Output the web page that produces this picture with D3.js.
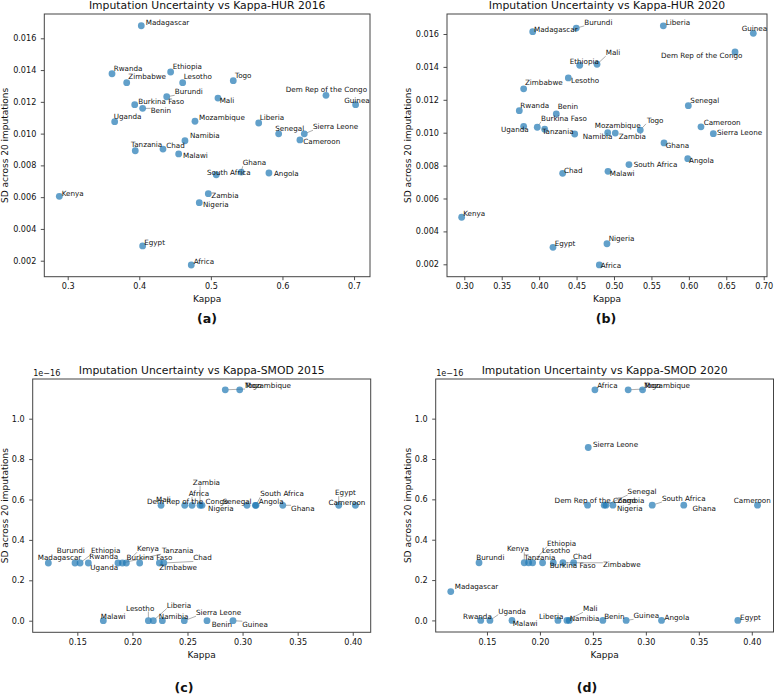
<!DOCTYPE html>
<html><head><meta charset="utf-8">
<script src="https://cdn.jsdelivr.net/npm/d3@7"></script>
<style>body{margin:0;background:#fff} svg text{font-family:"DejaVu Sans",sans-serif}</style>
</head><body>
<svg id="chart" width="774" height="696"></svg>
<script>
// ---------------- DATA ----------------
const countries = ["Africa","Angola","Benin","Burkina Faso","Burundi","Cameroon","Chad","Dem Rep of the Congo","Egypt","Ethiopia","Ghana","Guinea","Kenya","Lesotho","Liberia","Madagascar","Malawi","Mali","Mozambique","Namibia","Nigeria","Rwanda","Senegal","Sierra Leone","South Africa","Tanzania","Togo","Uganda","Zambia","Zimbabwe"];

const kappaHUR2016 = [0.4726,0.5811,0.4047,0.3936,0.4383,0.6244,0.4331,0.6608,0.4047,0.4438,0.5425,0.7022,0.2883,0.4606,0.5668,0.4028,0.4550,0.5099,0.4778,0.4638,0.4838,0.3619,0.5947,0.6305,0.5075,0.3944,0.5313,0.3656,0.4964,0.3824];
const sdHUR2016 = [0.00173,0.00752,0.01159,0.01182,0.01232,0.00960,0.00903,0.01241,0.00293,0.01388,0.00758,0.01182,0.00605,0.01321,0.01067,0.01679,0.00872,0.01224,0.01078,0.00955,0.00565,0.01377,0.00999,0.00999,0.00741,0.00892,0.01333,0.01075,0.00622,0.01321];

const kappaHUR2020 = [0.4804,0.5985,0.4229,0.3975,0.4496,0.6162,0.4314,0.6617,0.4185,0.4542,0.5668,0.6861,0.2965,0.4390,0.5659,0.3914,0.4920,0.4773,0.4916,0.4475,0.4906,0.3735,0.5993,0.6327,0.5200,0.4074,0.5351,0.3793,0.5017,0.3793];
const sdHUR2020 = [0.00196,0.00842,0.01114,0.01033,0.01636,0.01036,0.00753,0.01491,0.00303,0.01410,0.00938,0.01604,0.00486,0.01333,0.01650,0.01614,0.00765,0.01416,0.01000,0.00992,0.00325,0.01134,0.01164,0.00994,0.00806,0.01021,0.01016,0.01039,0.00998,0.01267];

const kappaSMOD2015 = [0.2541,0.3116,0.2677,0.2066,0.1479,0.4024,0.2285,0.2475,0.3873,0.1525,0.3365,0.2913,0.1945,0.2145,0.2190,0.1237,0.1736,0.2260,0.2843,0.2272,0.2632,0.1600,0.3040,0.2471,0.3122,0.1909,0.2974,0.1869,0.2614,0.2245];
const sdSMOD2015 = [0.5714e-16,0.5714e-16,0,0.2857e-16,0.2857e-16,0.5714e-16,0.2857e-16,0.5714e-16,0.5714e-16,0.2857e-16,0.5714e-16,0,0.2857e-16,0,0,0.2857e-16,0,0.5714e-16,1.1429e-16,0,0.5714e-16,0.2857e-16,0.5714e-16,0,0.5714e-16,0.2857e-16,1.1429e-16,0.2857e-16,0.5714e-16,0.2857e-16];

const kappaSMOD2020 = [0.2519,0.3148,0.2594,0.2126,0.1425,0.4054,0.2318,0.2450,0.3868,0.1931,0.3358,0.2814,0.1852,0.2025,0.2170,0.1158,0.1736,0.2255,0.2833,0.2277,0.2689,0.1441,0.2623,0.2456,0.3060,0.1893,0.2969,0.1528,0.2607,0.2217];
const sdSMOD2020 = [1.1429e-16,0,0,0.2857e-16,0.2857e-16,0.5714e-16,0.2857e-16,0.5714e-16,0,0.2857e-16,0.5714e-16,0,0.2857e-16,0.2857e-16,0,0.1429e-16,0,0,1.1429e-16,0,0.5714e-16,0,0.5714e-16,0.8571e-16,0.5714e-16,0.2857e-16,1.1429e-16,0,0.5714e-16,0.2857e-16];

const titles = ["Imputation Uncertainty vs Kappa-HUR 2016","Imputation Uncertainty vs Kappa-HUR 2020","Imputation Uncertainty vs Kappa-SMOD 2015","Imputation Uncertainty vs Kappa-SMOD 2020"];
const panelTags = ["(a)","(b)","(c)","(d)"];
const xAxisLabel = "Kappa";
const yAxisLabel = "SD across 20 imputations";
const offsetText = "1e\u221216";

const xTicksHUR2016 = [0.3,0.4,0.5,0.6,0.7];
const xTicksHUR2020 = [0.30,0.35,0.40,0.45,0.50,0.55,0.60,0.65,0.70];
const yTicksHUR = [0.002,0.004,0.006,0.008,0.010,0.012,0.014,0.016];
const xTicksSMOD = [0.15,0.20,0.25,0.30,0.35,0.40];
const yTicksSMOD = [0,0.2e-16,0.4e-16,0.6e-16,0.8e-16,1.0e-16];

// ---------------- LABEL LAYOUT (pixel nudges: dx, dy, leader line) ----------------
const layoutA = {"Madagascar":[4.4,-3.7],"Rwanda":[1.7,-5.4],"Zimbabwe":[1.6,-5.7],"Ethiopia":[2,-5.3],"Lesotho":[1,-5.7],"Togo":[1.7,-5.7],"Burundi":[8,-5,1],"Mali":[1.7,2.7],"Dem Rep of the Congo":[-40.3,-5.6],"Guinea":[-11.4,-4.7],"Burkina Faso":[3.6,-3],"Benin":[8,2,1],"Uganda":[-1,-5],"Mozambique":[4,-3.3],"Liberia":[1,-5.7],"Senegal":[-3.4,-5],"Sierra Leone":[8.7,-7,1],"Cameroon":[3.3,1.7],"Namibia":[5,-5],"Tanzania":[-4.3,-6.4],"Chad":[3.3,-3.3],"Malawi":[4.3,2],"Ghana":[1.4,-9.3,1],"South Africa":[-9.3,-2],"Angola":[5,0],"Kenya":[2.4,-3],"Zambia":[3,1.6],"Nigeria":[3.7,2],"Egypt":[1.6,-3.7],"Africa":[2.4,-3.7]};
const layoutB = {"Madagascar":[1.3,-2.4],"Burundi":[8,-5.7,1],"Liberia":[2.4,-3],"Guinea":[-11.6,-4.6],"Dem Rep of the Congo":[-74,3.7],"Ethiopia":[-10,-4],"Mali":[8.7,-11.6,1],"Lesotho":[2.7,2.3],"Zimbabwe":[1.3,-6],"Senegal":[2,-5.7],"Rwanda":[1,-5.4],"Benin":[1.4,-7.3],"Burkina Faso":[3.7,-9,1],"Uganda":[-22.7,3],"Tanzania":[-2.4,2.4],"Namibia":[8,2.7],"Mozambique":[-13,-7.4],"Zambia":[3.4,3],"Togo":[6.7,-9.7,1],"Ghana":[1.7,2.3],"Cameroon":[2.7,-4],"Sierra Leone":[3.7,-1.4],"Angola":[1.3,1.6],"South Africa":[4.7,0],"Chad":[1.3,-3.3],"Malawi":[1.7,2.4],"Kenya":[1.6,-3.3],"Egypt":[1.7,-3.6],"Nigeria":[1.7,-5.7],"Africa":[1.4,1]};
const layoutC = {"Mozambique":[19.8,-4.3,1],"Togo":[5.3,-4.3],"Mali":[-5,-5.3],"Dem Rep of the Congo":[-37.7,-3.3],"Zambia":[-7.3,-23,1],"Africa":[-3.3,-12,1],"Nigeria":[6,3.4],"Senegal":[-24.3,-4],"Angola":[3.4,-4],"South Africa":[4.2,-11.6,1],"Ghana":[8.3,3,1],"Egypt":[-3.7,-12.6,1],"Cameroon":[-27,-3],"Madagascar":[-10.6,-5],"Burundi":[-18.3,-12.6],"Ethiopia":[11,-12,1],"Rwanda":[1,-6.6],"Uganda":[-27.6,4.7,1],"Kenya":[10.7,-14.3,1],"Tanzania":[39.7,-12.3,1],"Burkina Faso":[-13.2,-5],"Chad":[29.5,-5,1],"Zimbabwe":[-0.1,5],"Malawi":[-2.6,-4],"Lesotho":[-22.3,-12.7,1],"Liberia":[13.4,-15.7,1],"Namibia":[-3.6,-4],"Sierra Leone":[11.7,-8,1],"Benin":[4.7,4],"Guinea":[9.3,4,1]};
const layoutD = {"Africa":[2.3,-4.3],"Mozambique":[16,-4.3,1],"Togo":[1.6,-4.3],"Sierra Leone":[4.7,-3.4],"Dem Rep of the Congo":[-33,-5],"Zambia":[13,-5],"Senegal":[21.7,-13.6,1],"Nigeria":[4,3],"South Africa":[9.7,-6.6,1],"Ghana":[8.7,3.7],"Cameroon":[-23.7,-5],"Burundi":[-2.7,-5],"Kenya":[-17.3,-14,1],"Tanzania":[-4.4,-5],"Ethiopia":[14.3,-19.6,1],"Lesotho":[-0.7,-12.3],"Chad":[-0.7,-6],"Burkina Faso":[-3.6,2.4],"Zimbabwe":[40,2,1],"Madagascar":[4,-5],"Rwanda":[-17.7,-4.3],"Uganda":[8.3,-9.3,1],"Malawi":[0.7,3],"Liberia":[-19,-4],"Mali":[16,-11.6,1],"Namibia":[0.4,-2],"Benin":[1.3,-4],"Guinea":[7.4,-4.6,1],"Angola":[3,-2.6],"Egypt":[2.3,-3]};

// ---------------- PANELS ----------------
const panels = [
  {kappa:kappaHUR2016, sd:sdHUR2016, title:titles[0], tag:panelTags[0], layout:layoutA,
   box:[44.3,14,370,276.7], xDom:[0.2673,0.7223], yDom:[0.000993,0.01753],
   xTicks:xTicksHUR2016, xFmt:d3.format(".1f"), yTicks:yTicksHUR, yFmt:d3.format(".3f"),
   ylabX:4.8, tagPos:[207,323], offset:false},
  {kappa:kappaHUR2020, sd:sdHUR2020, title:titles[1], tag:panelTags[1], layout:layoutB,
   box:[447,14,767,276.7], xDom:[0.2769,0.7044], yDom:[0.001246,0.017216],
   xTicks:xTicksHUR2020, xFmt:d3.format(".2f"), yTicks:yTicksHUR, yFmt:d3.format(".3f"),
   ylabX:407.5, tagPos:[606,323], offset:false},
  {kappa:kappaSMOD2015, sd:sdSMOD2015, title:titles[2], tag:panelTags[2], layout:layoutC,
   box:[32.7,379,370.7,632.3], xDom:[0.1095,0.4163], yDom:[-0.0574e-16,1.1965e-16],
   xTicks:xTicksSMOD, xFmt:d3.format(".2f"), yTicks:yTicksSMOD, yFmt:v=>d3.format(".1f")(v/1e-16),
   ylabX:4.5, tagPos:[184,692], offset:true},
  {kappa:kappaSMOD2020, sd:sdSMOD2020, title:titles[3], tag:panelTags[3], layout:layoutD,
   box:[435.7,379,773.5,632], xDom:[0.1016,0.4205], yDom:[-0.0574e-16,1.1965e-16],
   xTicks:xTicksSMOD, xFmt:d3.format(".2f"), yTicks:yTicksSMOD, yFmt:v=>d3.format(".1f")(v/1e-16),
   ylabX:407.5, tagPos:[587,692], offset:true}
];

const svg = d3.select("#chart");
const FONT = "DejaVu Sans, sans-serif";

panels.forEach(p => {
  const [L,T,R,B] = p.box;
  const g = svg.append("g");
  const x = d3.scaleLinear().domain(p.xDom).range([L,R]);
  const y = d3.scaleLinear().domain(p.yDom).range([B,T]);

  const xa = g.append("g").attr("transform",`translate(0,${B})`)
    .call(d3.axisBottom(x).tickValues(p.xTicks).tickFormat(p.xFmt).tickSize(3.5).tickPadding(3.5));
  const ya = g.append("g").attr("transform",`translate(${L},0)`)
    .call(d3.axisLeft(y).tickValues(p.yTicks).tickFormat(p.yFmt).tickSize(3.5).tickPadding(4.5));
  [xa,ya].forEach(a => {
    a.select(".domain").remove();
    a.attr("font-family",FONT).attr("font-size",8.1);
    a.selectAll("text").attr("fill","#111");
    a.selectAll("line").attr("stroke","#222").attr("stroke-width",0.8);
  });

  g.append("rect").attr("x",L).attr("y",T).attr("width",R-L).attr("height",B-T)
    .attr("fill","none").attr("stroke","#444").attr("stroke-width",1);

  const data = countries.map((c,i)=>({name:c, k:p.kappa[i], s:p.sd[i]}));
  const lineG = g.append("g");
  g.append("g").selectAll("circle").data(data).join("circle")
    .attr("cx",d=>x(d.k)).attr("cy",d=>y(d.s)).attr("r",3.4)
    .attr("fill","#1f77b4").attr("fill-opacity",0.7);

  const texts = g.append("g").selectAll("text").data(data).join("text")
    .attr("x",d=>x(d.k)+(p.layout[d.name]||[2,-3])[0])
    .attr("y",d=>y(d.s)+(p.layout[d.name]||[2,-3])[1])
    .attr("dominant-baseline","central")
    .attr("font-size",7.2).attr("fill","#111").text(d=>d.name);

  texts.each(function(d){
    const lay = p.layout[d.name];
    if(!lay || !lay[2]) return;
    const bb = this.getBBox();
    const px = x(d.k), py = y(d.s);
    const nx = Math.max(bb.x, Math.min(px, bb.x+bb.width));
    const ny = Math.max(bb.y+1, Math.min(py, bb.y+bb.height-1));
    const dx = nx-px, dy = ny-py, len = Math.hypot(dx,dy);
    if(len < 4) return;
    lineG.append("line").attr("x1",px+dx/len*3).attr("y1",py+dy/len*3)
      .attr("x2",nx).attr("y2",ny).attr("stroke","#777").attr("stroke-width",0.6);
  });

  // title
  g.append("text").attr("x",(L+R)/2).attr("y",T-5).attr("text-anchor","middle")
    .attr("font-size",10.8).attr("fill","#111").text(p.title);
  // axis labels
  g.append("text").attr("x",(L+R)/2).attr("y",B+25.5).attr("text-anchor","middle")
    .attr("font-size",9).attr("fill","#111").text(xAxisLabel);
  g.append("text").attr("transform",`translate(${p.ylabX},${(T+B)/2}) rotate(-90)`)
    .attr("text-anchor","middle").attr("dominant-baseline","central")
    .attr("font-size",9).attr("fill","#111").text(yAxisLabel);
  if(p.offset){
    g.append("text").attr("x",L+0.5).attr("y",T-3).attr("font-size",8.1).attr("fill","#111").text(offsetText);
  }
  g.append("text").attr("x",p.tagPos[0]).attr("y",p.tagPos[1]).attr("text-anchor","middle")
    .attr("font-size",12.6).attr("font-weight","bold").attr("fill","#111").text(p.tag);
});
</script>
</body></html>
